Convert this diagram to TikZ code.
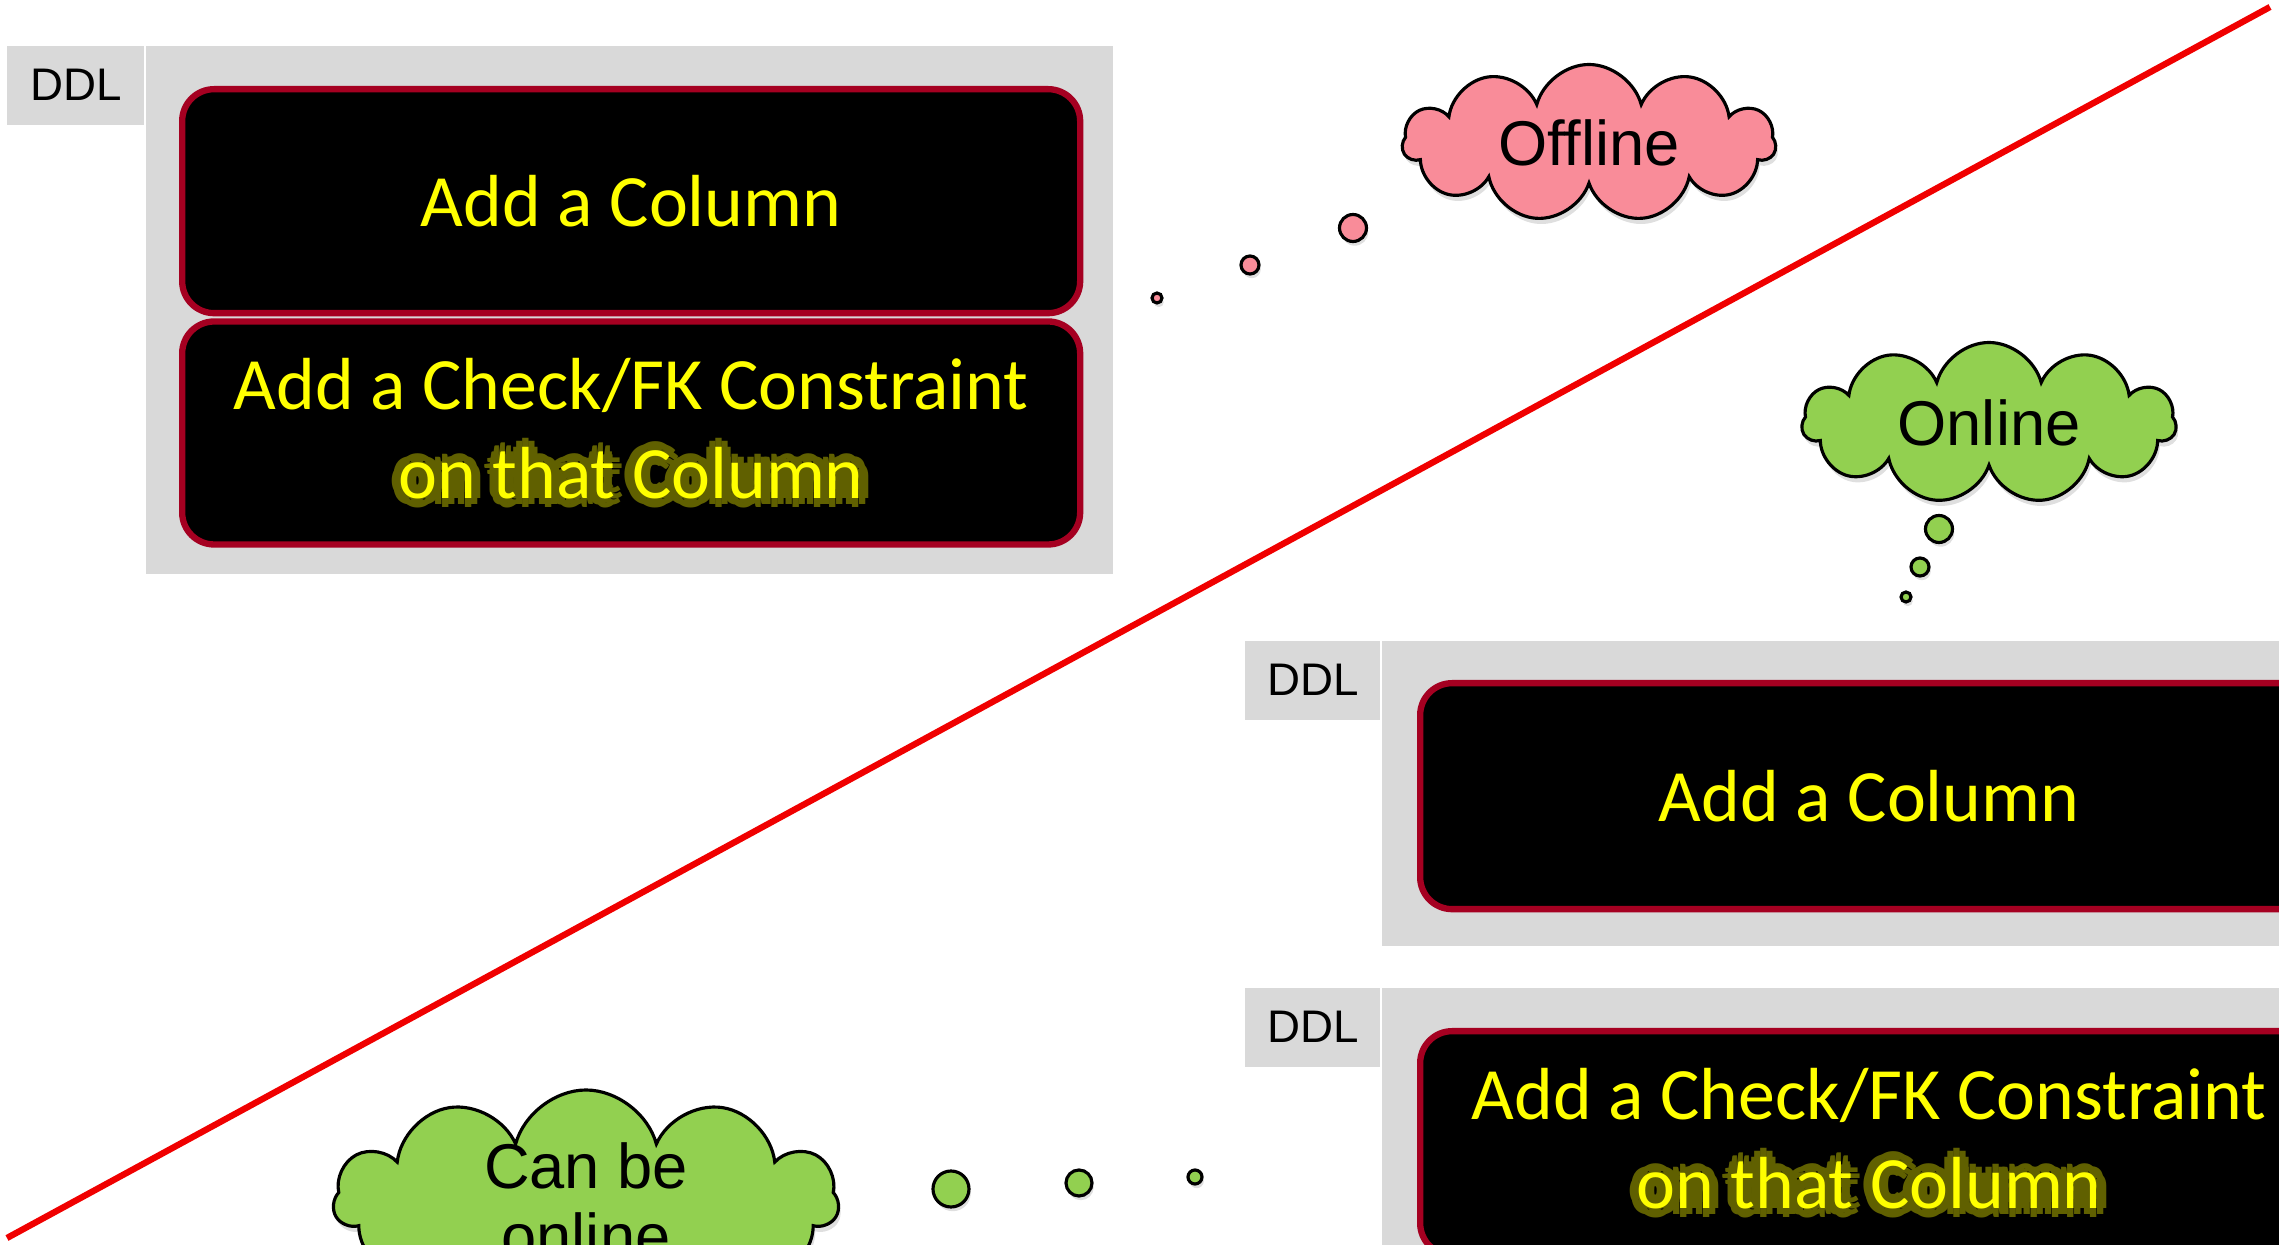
\documentclass[tikz,border=0pt]{standalone}
\usepackage{fontspec}
\setmainfont{Liberation Sans}
\newfontfamily\stepfont{Carlito}
\usepackage{xcolor}
\usepackage{tikz}
\usetikzlibrary{shapes.symbols,positioning,shadows}
\definecolor{ddlPanelFill}{RGB}{217,217,217}
\definecolor{ddlBoxLine}{RGB}{165,0,33}
\definecolor{ddlText}{RGB}{255,255,0}
\definecolor{ddlGlow}{RGB}{96,96,0}
\definecolor{offlineFill}{RGB}{249,140,153}
\definecolor{onlineFill}{RGB}{146,208,80}
\definecolor{dividerRed}{RGB}{240,0,0}
% glow behind a line of text
\newcommand{\glowcopy}[3]{\makebox[0pt][l]{\hspace*{#1}\raisebox{#2}{\textcolor{ddlGlow}{#3}}}}
\newcommand{\glowtext}[1]{%
  \foreach \gx/\gy in {2.6/0,1.8/1.8,0/2.6,-1.8/1.8,-2.6/0,-1.8/-1.8,0/-2.6,1.8/-1.8}
    {\glowcopy{\gx pt}{\gy pt}{#1}}%
  #1}
\tikzset{
  panelbody/.style={rectangle, fill=ddlPanelFill, draw=none, inner sep=0pt},
  paneltab/.style={rectangle, fill=ddlPanelFill, draw=none, inner sep=0pt,
    minimum width=1.37cm, minimum height=0.79cm, font=\fontsize{13}{15}\selectfont},
  stepbox/.style={rectangle, fill=black, draw=ddlBoxLine, line width=1.8pt,
    rounded corners=0.32cm, minimum width=8.98cm, align=center, inner sep=2pt,
    text=ddlText, font=\stepfont\fontsize{21}{25.4}\selectfont},
  thoughtcloud/.style={cloud, cloud puffs=11, cloud ignores aspect, draw=black,
    line width=0.9pt, inner sep=0pt, align=center, font=\fontsize{18}{20}\selectfont,
    drop shadow={shadow xshift=0.6pt, shadow yshift=-1.6pt, opacity=0.25}},
  thoughtdot/.style={circle, draw=black, line width=0.9pt, inner sep=0pt,
    drop shadow={shadow xshift=0.5pt, shadow yshift=-1.2pt, opacity=0.25}},
  dividerline/.style={draw=dividerRed, line width=1.8pt},
}
\begin{document}
\begin{tikzpicture}[x=1cm,y=1cm]
  \useasboundingbox (0,0) rectangle (22.79,-12.45);
  \clip (0,0) rectangle (22.79,-12.45);

  % offline DDL
  \node[panelbody, minimum width=9.67cm, minimum height=5.28cm, anchor=north west] (body1) at (1.45,-0.45) {};
  \node[paneltab, anchor=north east] (tab1) at (body1.north west) {DDL};
  \node[stepbox, minimum height=2.24cm, anchor=north west] (col1) at (1.79,-0.86) {Add a Column};
  \node[stepbox, minimum height=2.23cm, below=0.02cm of col1] (chk1)
    {Add a Check/FK Constraint\\\glowtext{on that Column}};

  % online DDL, split in two
  \node[panelbody, minimum width=9.6cm, minimum height=3.05cm, anchor=north west] (body2) at (13.81,-6.40) {};
  \node[paneltab, minimum width=1.35cm, anchor=north east] (tab2) at (body2.north west) {DDL};
  \node[stepbox, minimum height=2.26cm, anchor=north west] (col2) at (14.17,-6.80) {Add a Column};

  \node[panelbody, minimum width=9.6cm, minimum height=3.2cm, anchor=north west] (body3) at (13.81,-9.87) {};
  \node[paneltab, minimum width=1.35cm, anchor=north east] (tab3) at (body3.north west) {DDL};
  \node[stepbox, minimum height=2.24cm, anchor=north west] (chk3) at (14.17,-10.28)
    {Add a Check/FK Constraint\\\glowtext{on that Column}};

  % divider
  \coordinate (divlo) at (0.07,-12.38);
  \coordinate (divhi) at (22.70,-0.07);
  \draw[dividerline] (divlo) -- (divhi);

  % thought clouds
  \node[thoughtcloud, fill=offlineFill, minimum width=3.73cm, minimum height=1.57cm] (offline) at (15.89,-1.43) {Offline};
  \node[thoughtdot, fill=offlineFill, minimum size=0.27cm] (offdot1) at (13.53,-2.28) {};
  \node[thoughtdot, fill=offlineFill, minimum size=0.18cm] (offdot2) at (12.50,-2.65) {};
  \node[thoughtdot, fill=offlineFill, minimum size=0.10cm] (offdot3) at (11.57,-2.98) {};

  \node[thoughtcloud, fill=onlineFill, minimum width=3.74cm, minimum height=1.61cm] (online) at (19.89,-4.23) {Online};
  \node[thoughtdot, fill=onlineFill, minimum size=0.27cm] (ondot1) at (19.39,-5.29) {};
  \node[thoughtdot, fill=onlineFill, minimum size=0.18cm] (ondot2) at (19.20,-5.67) {};
  \node[thoughtdot, fill=onlineFill, minimum size=0.10cm] (ondot3) at (19.06,-5.97) {};

  \node[thoughtcloud, fill=onlineFill, inner sep=-0.25cm, minimum width=5.05cm, minimum height=2.22cm] (canbe) at (5.86,-12.01) {Can be\\online};
  \node[thoughtdot, fill=onlineFill, minimum size=0.36cm] (candot1) at (9.51,-11.89) {};
  \node[thoughtdot, fill=onlineFill, minimum size=0.26cm] (candot2) at (10.79,-11.83) {};
  \node[thoughtdot, fill=onlineFill, minimum size=0.14cm] (candot3) at (11.95,-11.77) {};
\end{tikzpicture}
\end{document}
